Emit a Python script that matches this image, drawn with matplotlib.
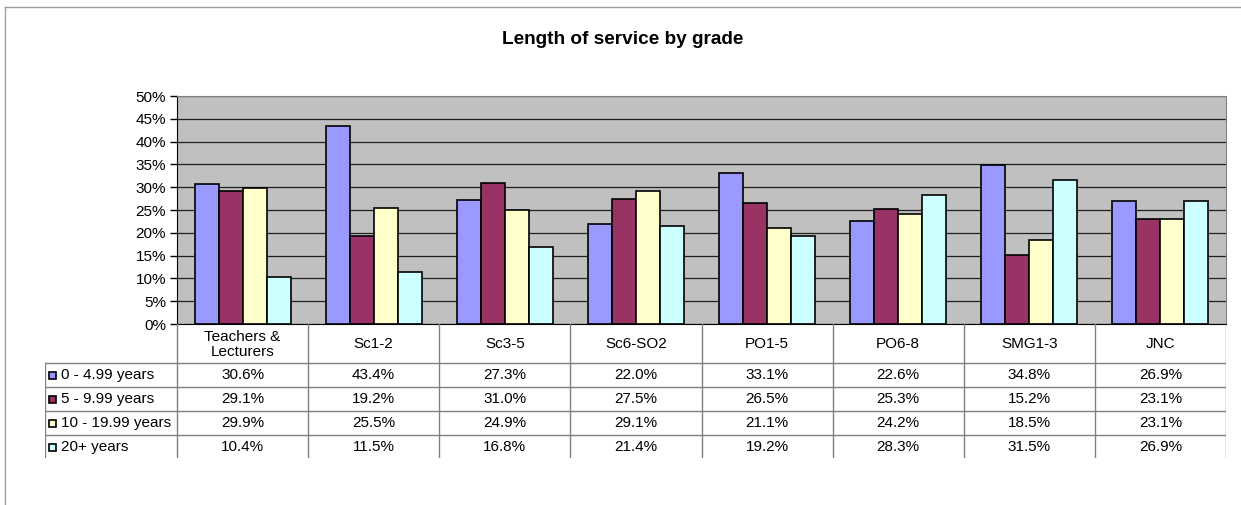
import matplotlib
matplotlib.use("Agg")
import matplotlib.pyplot as plt
from matplotlib.lines import Line2D
from matplotlib.patches import Rectangle
from matplotlib.ticker import FuncFormatter

plt.rcParams['font.family'] = ['Liberation Sans', 'DejaVu Sans']

categories = ["Teachers &\nLecturers", "Sc1-2", "Sc3-5", "Sc6-SO2", "PO1-5", "PO6-8", "SMG1-3", "JNC"]
series_names = ["0 - 4.99 years", "5 - 9.99 years", "10 - 19.99 years", "20+ years"]
s0 = [30.6, 43.4, 27.3, 22.0, 33.1, 22.6, 34.8, 26.9]
s1 = [29.1, 19.2, 31.0, 27.5, 26.5, 25.3, 15.2, 23.1]
s2 = [29.9, 25.5, 24.9, 29.1, 21.1, 24.2, 18.5, 23.1]
s3 = [10.4, 11.5, 16.8, 21.4, 19.2, 28.3, 31.5, 26.9]
series = [s0, s1, s2, s3]
colors = ["#9999FF", "#993366", "#FFFFCC", "#CCFFFF"]

W, H = 1241, 505
fig = plt.figure(figsize=(W / 100, H / 100), dpi=100)

def fx(px):
    return px / W

def fy(py):
    return 1 - py / H

FS = 11

# chart frame
fig.add_artist(Line2D([fx(5), fx(5)], [fy(7), 0], color="#A0A0A0", lw=1))
fig.add_artist(Line2D([fx(5), 1], [fy(7), fy(7)], color="#A0A0A0", lw=1))

fig.text(fx(623), fy(39), "Length of service by grade", ha="center", va="center",
         fontsize=13.7, fontweight="bold")

L, R, T, B = 177, 1226, 96, 324
ax = fig.add_axes([fx(L), fy(B), fx(R - L), fy(T) - fy(B)])
ax.set_facecolor("#C0C0C0")
n = len(categories)
w = 0.183
for k, vals in enumerate(series):
    xs = [i + 0.5 + (k - 1.5) * w for i in range(n)]
    ax.bar(xs, [v / 100 for v in vals], width=w, color=colors[k], edgecolor="black",
           linewidth=1.2, zorder=3)
ax.set_xlim(0, n)
ax.set_ylim(0, 0.5)
ax.set_yticks([i * 0.05 for i in range(11)])
ax.yaxis.set_major_formatter(FuncFormatter(lambda v, p: f"{v*100:.0f}%"))
ax.tick_params(axis="y", labelsize=FS, length=5, width=1, color="black", pad=3)
ax.set_xticks([])
ax.grid(axis="y", color="#202020", lw=0.9, zorder=1)
for s in ["top", "right"]:
    ax.spines[s].set_color("#808080")
ax.spines["left"].set_color("#000000")
ax.spines["bottom"].set_color("#000000")
ax.spines["bottom"].set_zorder(4)

# data table
TL, TB = 45, 458
tab = fig.add_axes([fx(TL), fy(TB), fx(R - TL), fy(B) - fy(TB)])
tab.set_axis_off()
cw = (R - L) / n
tab.set_xlim(-(L - TL), R - L)
tab.set_ylim(TB - B, 0)
hdr = 39
rh = 24
lc = "#808080"
# vertical lines
for i in range(n + 1):
    tab.plot([i * cw, i * cw], [0, TB - B], color=lc, lw=1)
tab.plot([-(L - TL), -(L - TL)], [hdr, TB - B], color=lc, lw=1)
# horizontal lines
for j in range(len(series) + 1):
    y = hdr + j * rh
    tab.plot([-(L - TL), R - L], [y, y], color="#A0A0A0" if j == len(series) else lc, lw=1)
for i, c in enumerate(categories):
    tab.text((i + 0.5) * cw, hdr / 2 + 1, c, ha="center", va="center", fontsize=FS,
             linespacing=1.15)
for j, (name, vals) in enumerate(zip(series_names, series)):
    yc = hdr + (j + 0.5) * rh
    tab.add_patch(Rectangle((-(L - TL) + 4, yc - 3.5), 7, 7, facecolor=colors[j],
                            edgecolor="black", lw=1.2))
    tab.text(-(L - TL) + 16, yc, name, ha="left", va="center", fontsize=FS)
    for i, v in enumerate(vals):
        tab.text((i + 0.5) * cw, yc, f"{v:.1f}%", ha="center", va="center", fontsize=FS)

fig.savefig("out.png", dpi=100)
